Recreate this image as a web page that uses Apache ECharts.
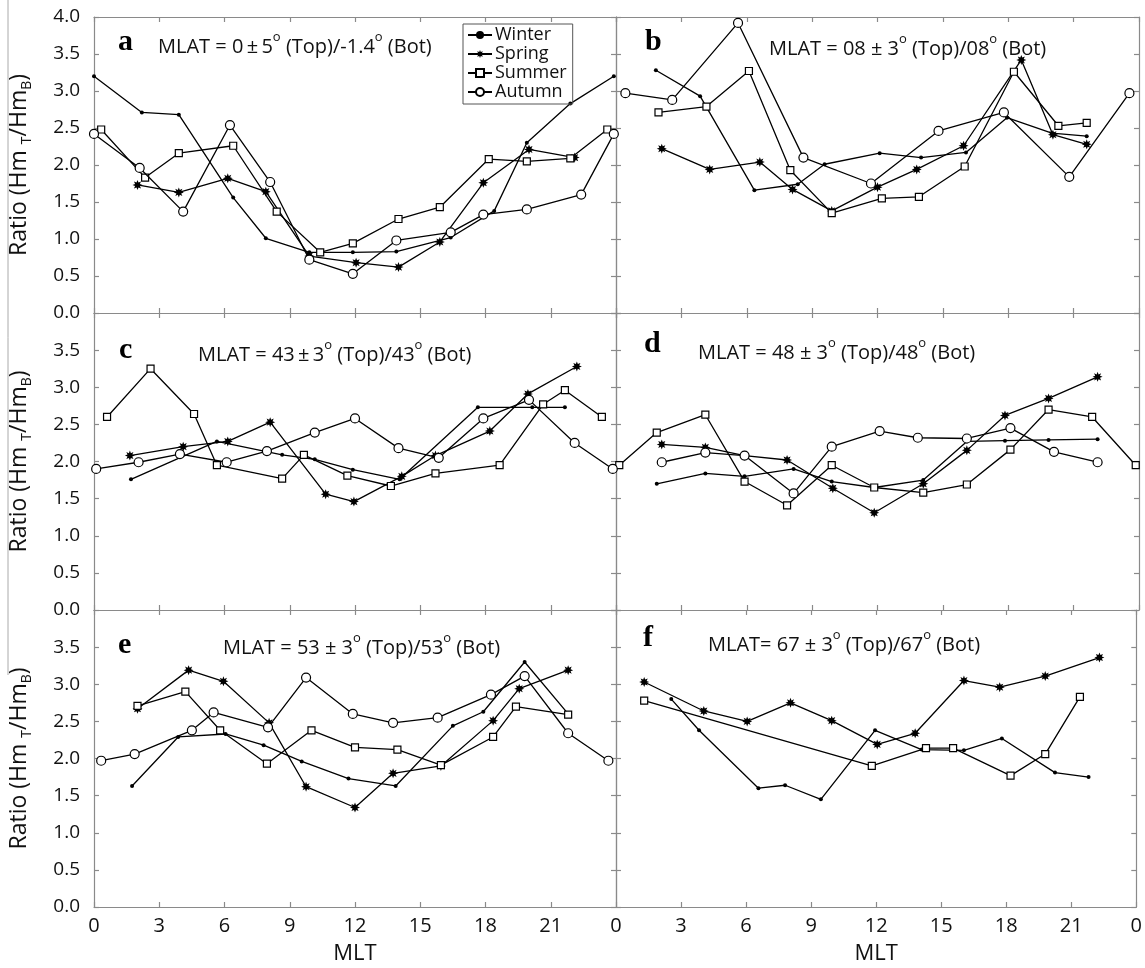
<!DOCTYPE html>
<html>
<head>
<meta charset="utf-8">
<script src="https://cdn.jsdelivr.net/npm/echarts@6/dist/echarts.min.js"></script>
<style>
  html, body { margin: 0; padding: 0; background: #fff; }
  #chart { width: 1145px; height: 968px; }
</style>
</head>
<body>
<div id="chart"></div>
<script>
// MLT ticks (hours) and ratio ticks
const mltTicks = [0, 3, 6, 9, 12, 15, 18, 21, 24];
const ratioTicks = [0, 0.5, 1, 1.5, 2, 2.5, 3, 3.5, 4];
const seasons = ['Winter', 'Spring', 'Summer', 'Autumn'];

// [MLT, ratio] pairs
const a_winter = [[0,3.20],[2.2,2.71],[3.9,2.68],[6.4,1.56],[7.9,1.01],[9.9,0.82],[11.9,0.82],[13.9,0.83],[16.4,1.02],[18.4,1.38],[19.9,2.30],[21.9,2.83],[23.9,3.20]];
const a_spring = [[2.0,1.73],[3.9,1.63],[6.15,1.82],[7.9,1.64],[9.9,0.77],[12.05,0.68],[14.0,0.62],[15.9,0.96],[17.9,1.76],[20.0,2.21],[22.1,2.10]];
const a_summer = [[0.33,2.48],[2.35,1.83],[3.9,2.16],[6.4,2.26],[8.4,1.37],[10.4,0.82],[11.9,0.94],[14.0,1.27],[15.9,1.43],[18.15,2.08],[19.9,2.05],[21.9,2.09],[23.6,2.48]];
const a_autumn = [[0,2.42],[2.1,1.96],[4.1,1.37],[6.25,2.54],[8.1,1.77],[9.9,0.72],[11.9,0.53],[13.9,0.98],[16.4,1.09],[17.9,1.33],[19.9,1.40],[22.4,1.60],[23.9,2.42]];

const b_winter = [[1.83,3.28],[3.86,2.93],[6.35,1.66],[8.34,1.74],[9.57,2.01],[12.1,2.16],[14.0,2.10],[16.06,2.17],[17.94,2.64],[20.0,2.43],[21.6,2.39]];
const b_spring = [[2.1,2.22],[4.3,1.94],[6.6,2.04],[8.1,1.67],[9.9,1.38],[12.0,1.70],[13.8,1.94],[15.95,2.26],[18.6,3.42],[20.05,2.41],[21.6,2.28]];
const b_summer = [[1.95,2.71],[4.15,2.79],[6.1,3.27],[8.0,1.93],[9.9,1.35],[12.2,1.55],[13.9,1.57],[16.0,1.98],[18.26,3.26],[20.3,2.53],[21.6,2.57]];
const b_autumn = [[0.43,2.97],[2.58,2.88],[5.6,3.92],[8.6,2.10],[11.7,1.75],[14.8,2.46],[17.8,2.71],[20.8,1.84],[23.56,2.97]];

const c_winter = [[1.7,1.76],[5.65,2.27],[8.65,2.09],[10.15,2.03],[11.9,1.89],[14.05,1.76],[17.65,2.73],[20.15,2.73],[21.65,2.73]];
const c_spring = [[1.65,2.08],[4.1,2.20],[6.15,2.27],[8.1,2.53],[10.65,1.56],[11.95,1.46],[14.15,1.80],[15.7,2.08],[18.2,2.41],[19.95,2.91],[22.2,3.28]];
const c_summer = [[0.6,2.60],[2.6,3.25],[4.6,2.64],[5.65,1.95],[8.65,1.77],[9.65,2.09],[11.65,1.81],[13.65,1.67],[15.7,1.84],[18.65,1.95],[20.65,2.77],[21.65,2.96],[23.35,2.60]];
const c_autumn = [[0.1,1.90],[2.05,1.99],[3.95,2.10],[6.1,1.99],[7.95,2.14],[10.15,2.39],[12.0,2.58],[14.0,2.18],[15.85,2.05],[17.9,2.58],[20.0,2.83],[22.1,2.25],[23.85,1.90]];

const d_winter = [[1.87,1.70],[4.1,1.84],[5.9,1.80],[8.15,1.90],[9.9,1.73],[11.85,1.65],[14.1,1.75],[16.1,2.27],[17.85,2.28],[19.85,2.29],[22.1,2.30]];
const d_spring = [[2.1,2.23],[4.1,2.19],[5.9,2.08],[7.85,2.02],[9.95,1.64],[11.85,1.31],[14.1,1.70],[16.1,2.15],[17.85,2.62],[19.85,2.85],[22.1,3.14]];
const d_summer = [[0.15,1.95],[1.87,2.39],[4.1,2.63],[5.9,1.73],[7.85,1.41],[9.9,1.95],[11.85,1.65],[14.1,1.58],[16.1,1.69],[18.1,2.16],[19.85,2.70],[21.85,2.60],[23.85,1.95]];
const d_autumn = [[2.1,1.99],[4.1,2.12],[5.9,2.08],[8.15,1.57],[9.9,2.20],[12.1,2.41],[13.85,2.32],[16.1,2.31],[18.1,2.45],[20.1,2.13],[22.1,1.99]];

const e_winter = [[1.75,1.63],[3.87,2.29],[6.05,2.33],[7.8,2.18],[9.55,1.96],[11.7,1.73],[13.87,1.63],[16.5,2.44],[17.9,2.63],[19.8,3.30],[21.8,2.60]];
const e_spring = [[2.0,2.67],[4.35,3.19],[5.95,3.04],[8.05,2.48],[9.75,1.62],[12.0,1.34],[13.75,1.80],[15.95,1.90],[18.35,2.51],[19.55,2.94],[21.8,3.19]];
const e_summer = [[2.0,2.71],[4.2,2.90],[5.8,2.38],[7.95,1.93],[10.0,2.38],[12.0,2.15],[13.95,2.12],[15.95,1.91],[18.35,2.29],[19.4,2.70],[21.8,2.59]];
const e_autumn = [[0.33,1.97],[1.87,2.06],[4.5,2.38],[5.5,2.62],[8.0,2.42],[9.75,3.09],[11.9,2.60],[13.75,2.48],[15.8,2.55],[18.25,2.86],[19.8,3.11],[21.8,2.34],[23.65,1.97]];

const f_winter = [[2.55,2.80],[3.83,2.38],[6.57,1.60],[7.8,1.64],[9.45,1.45],[11.95,2.38],[14.1,2.12],[16.05,2.11],[17.8,2.27],[20.25,1.81],[21.8,1.75]];
const f_spring = [[1.3,3.03],[4.05,2.64],[6.05,2.50],[8.05,2.75],[9.95,2.51],[12.05,2.19],[13.8,2.34],[16.05,3.05],[17.7,2.96],[19.8,3.11],[22.3,3.36]];
const f_summer = [[1.3,2.78],[11.8,1.90],[14.3,2.14],[15.55,2.14],[18.2,1.77],[19.8,2.06],[21.4,2.83]];
const f_autumn = [];

const panelLetters = ['a', 'b', 'c', 'd', 'e', 'f'];
const panelTitles = [
  '{m|MLAT = 0\u2009\u00b1\u20095}{s|o}{m| (Top)/-1.4}{s|o}{m| (Bot)}',
  '{m|MLAT = 08 \u00b1 3}{s|o}{m| (Top)/08}{s|o}{m| (Bot)}',
  '{m|MLAT = 43\u2009\u00b1\u20093}{s|o}{m| (Top)/43}{s|o}{m| (Bot)}',
  '{m|MLAT = 48 \u00b1 3}{s|o}{m| (Top)/48}{s|o}{m| (Bot)}',
  '{m|MLAT = 53 \u00b1 3}{s|o}{m| (Top)/53}{s|o}{m| (Bot)}',
  '{m|MLAT= 67 \u00b1 3}{s|o}{m| (Top)/67}{s|o}{m| (Bot)}'
];
const panelData = [
  [a_winter, a_spring, a_summer, a_autumn],
  [b_winter, b_spring, b_summer, b_autumn],
  [c_winter, c_spring, c_summer, c_autumn],
  [d_winter, d_spring, d_summer, d_autumn],
  [e_winter, e_spring, e_summer, e_autumn],
  [f_winter, f_spring, f_summer, f_autumn]
];

// layout
const FONT = "'Open Sans', 'DejaVu Sans', sans-serif";
const SERIF = "'Liberation Serif', 'DejaVu Serif', serif";
const AXIS_GREY = '#8a8a8a';
const colLeft = [94, 616];
const colWidth = [522, 523];
const rowTop = [17, 313, 610];
const rowHeight = [296, 297, 297];
const letterPos = [[118, 42], [645, 42], [119, 350], [644, 344], [118, 645], [643, 638]];
const titlePos = [[158, 44], [769, 46], [198, 352], [698, 350], [223, 645], [708, 642]];

const STAR = 'path://M0,-10L2,-4.8L7.07,-7.07L4.8,-2L10,0L4.8,2L7.07,7.07L2,4.8L0,10L-2,4.8L-7.07,7.07L-4.8,2L-10,0L-4.8,-2L-7.07,-7.07L-2,-4.8Z';
const markerStyle = {
  Winter: { symbol: 'circle', symbolSize: 4, itemStyle: { color: '#000' } },
  Spring: { symbol: STAR, symbolSize: 10, itemStyle: { color: '#000' } },
  Summer: { symbol: 'rect', symbolSize: 7, itemStyle: { color: '#fff', borderColor: '#000', borderWidth: 1.2 } },
  Autumn: { symbol: 'circle', symbolSize: 9, itemStyle: { color: '#fff', borderColor: '#000', borderWidth: 1.2 } }
};

const grids = [], xAxes = [], yAxes = [], series = [], graphics = [];

function axisLine() {
  return { show: true, onZero: false, lineStyle: { color: AXIS_GREY, width: 1.2 } };
}
function axisTick() {
  return { show: true, inside: true, length: 5, lineStyle: { color: AXIS_GREY, width: 1.2 } };
}

panelData.forEach((sets, p) => {
  const col = p % 2;
  const row = Math.floor(p / 2);
  grids.push({ left: colLeft[col], top: rowTop[row], width: colWidth[col], height: rowHeight[row] });

  ['bottom', 'top'].forEach(pos => {
    const main = pos === 'bottom';
    xAxes.push({
      gridIndex: p, type: 'value', position: pos,
      min: mltTicks[0], max: mltTicks[mltTicks.length - 1], interval: 3,
      axisLine: axisLine(), axisTick: axisTick(), splitLine: { show: false },
      axisLabel: {
        show: main && row === 2, fontFamily: FONT, fontSize: 20, color: '#111', margin: 9,
        showMinLabel: col === 0, showMaxLabel: true,
        formatter: v => String(v % 24)
      },
      name: main && row === 2 ? 'MLT' : '', nameLocation: 'middle', nameGap: 36,
      nameTextStyle: { fontFamily: FONT, fontSize: 22, color: '#111' }
    });
  });

  ['left', 'right'].forEach(pos => {
    const main = pos === 'left';
    yAxes.push({
      gridIndex: p, type: 'value', position: pos,
      min: ratioTicks[0], max: ratioTicks[ratioTicks.length - 1], interval: 0.5,
      axisLine: axisLine(), axisTick: axisTick(), splitLine: { show: false },
      axisLabel: {
        show: main && col === 0, fontFamily: FONT, fontSize: 19, color: '#111', margin: 14,
        showMinLabel: true, showMaxLabel: row === 0,
        formatter: v => v.toFixed(1)
      },
      name: main && col === 0 ? '{m|Ratio (Hm }{s|T}{m|/Hm}{s|B}{m|)}' : '',
      nameLocation: 'middle', nameGap: 60, nameRotate: 90,
      nameTextStyle: {
        color: '#111',
        rich: {
          m: { fontFamily: FONT, fontSize: 23, lineHeight: 30, verticalAlign: 'middle', color: '#111' },
          s: { fontFamily: FONT, fontSize: 14, lineHeight: 14, verticalAlign: 'bottom', color: '#111' }
        }
      }
    });
  });

  sets.forEach((data, k) => {
    if (!data.length) return;
    const name = seasons[k];
    const m = markerStyle[name];
    series.push({
      type: 'line', name, xAxisIndex: 2 * p, yAxisIndex: 2 * p,
      data, symbol: m.symbol, symbolSize: m.symbolSize, showSymbol: true, showAllSymbol: true,
      lineStyle: { color: '#000', width: 1.3 },
      itemStyle: m.itemStyle,
      emphasis: { disabled: true }, z: 3 + k
    });
  });

  graphics.push({
    type: 'text', x: letterPos[p][0], y: letterPos[p][1],
    style: { text: panelLetters[p], font: 'bold 30px ' + SERIF, fill: '#000', verticalAlign: 'middle' }
  });
  graphics.push({
    type: 'text', x: titlePos[p][0], y: titlePos[p][1],
    style: {
      text: panelTitles[p], verticalAlign: 'middle', fill: '#111',
      rich: {
        m: { fontFamily: FONT, fontSize: 20, lineHeight: 26, verticalAlign: 'bottom', fill: '#111' },
        s: { fontFamily: FONT, fontSize: 13, lineHeight: 10, verticalAlign: 'top', fill: '#111' }
      }
    }
  });
});

// scan edge line at far left of the original figure
graphics.push({ type: 'line', shape: { x1: 8, y1: 0, x2: 8, y2: 675 }, style: { stroke: '#aaa', lineWidth: 1 } });

const chart = echarts.init(document.getElementById('chart'), null, { renderer: 'canvas' });
chart.setOption({
  animation: false,
  backgroundColor: '#fff',
  grid: grids,
  xAxis: xAxes,
  yAxis: yAxes,
  legend: {
    data: seasons, orient: 'vertical', left: 463, top: 24,
    itemWidth: 24, itemHeight: 10, itemGap: 1, padding: [2, 6, 3, 4],
    borderColor: '#555', borderWidth: 1, borderRadius: 0,
    textStyle: { fontFamily: FONT, fontSize: 18, color: '#111', padding: [0, 0, 0, -2] },
    selectedMode: false
  },
  series,
  graphic: graphics
});
</script>
</body>
</html>
